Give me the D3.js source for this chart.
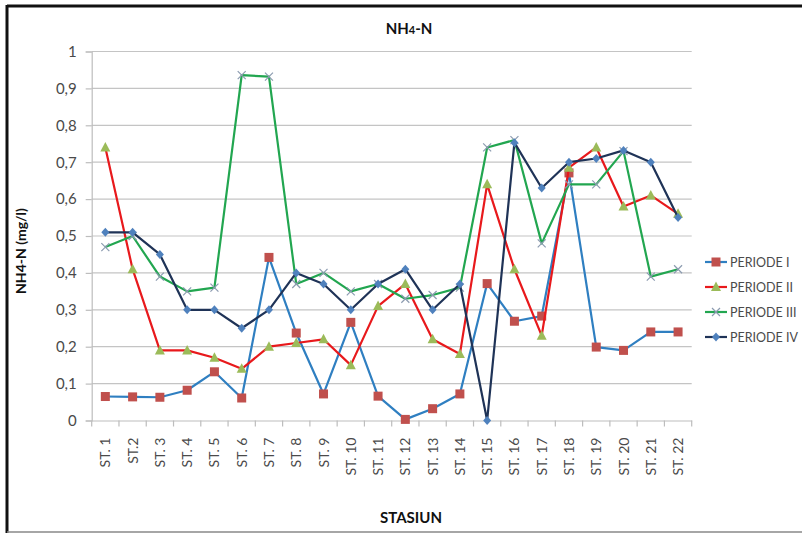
<!DOCTYPE html>
<html>
<head>
<meta charset="utf-8">
<script src="https://cdn.jsdelivr.net/npm/d3@7"></script>
<style>
	html, body { margin: 0; padding: 0; background: #fff; overflow: hidden; }
	svg { display: block; }
</style>
</head>
<body>
<svg width="802" height="533"></svg>
<script>
// data
const stations = ["ST. 1", "ST.2", "ST. 3", "ST. 4", "ST. 5", "ST. 6", "ST. 7", "ST. 8", "ST. 9", "ST. 10", "ST. 11",
	"ST. 12", "ST. 13", "ST. 14", "ST. 15", "ST. 16", "ST. 17", "ST. 18", "ST. 19", "ST. 20", "ST. 21", "ST. 22"];

const periode1 = [0.065, 0.064, 0.063, 0.082, 0.132, 0.061, 0.442, 0.237, 0.072, 0.266, 0.066,
	0.003, 0.032, 0.072, 0.371, 0.269, 0.283, 0.671, 0.199, 0.19, 0.24, 0.24];
const periode2 = [0.74, 0.41, 0.19, 0.19, 0.17, 0.14, 0.2, 0.21, 0.22, 0.15, 0.31,
	0.37, 0.22, 0.18, 0.64, 0.41, 0.23, 0.685, 0.74, 0.58, 0.61, 0.56];
const periode3 = [0.47, 0.5, 0.39, 0.35, 0.36, 0.936, 0.932, 0.37, 0.4, 0.35, 0.37,
	0.33, 0.34, 0.36, 0.74, 0.76, 0.48, 0.64, 0.64, 0.73, 0.39, 0.41];
const periode4 = [0.51, 0.51, 0.45, 0.3, 0.3, 0.25, 0.3, 0.4, 0.37, 0.3, 0.37,
	0.41, 0.3, 0.37, 0, 0.753, 0.63, 0.7, 0.71, 0.732, 0.7, 0.55];

const yTicks = [0, 0.1, 0.2, 0.3, 0.4, 0.5, 0.6, 0.7, 0.8, 0.9, 1];

const series = [
	{ name: "PERIODE I", values: periode1, line: "#2f7fc1", marker: "square", fill: "#c0504d" },
	{ name: "PERIODE II", values: periode2, line: "#e8191c", marker: "triangle", fill: "#9bbb59" },
	{ name: "PERIODE III", values: periode3, line: "#22a650", marker: "cross", fill: "#8c9bb0" },
	{ name: "PERIODE IV", values: periode4, line: "#1f3357", marker: "diamond", fill: "#4f81bd" }
];

const font = 'Lato, sans-serif';

const svg = d3.select('svg');
const margin = { top: 51.5, left: 91.7, right: 110.3, bottom: 112.5 };
const width = +svg.attr('width');
const height = +svg.attr('height');
const innerWidth = width - margin.left - margin.right;
const innerHeight = height - margin.top - margin.bottom;

// frame around the chart
svg.append('line').attr('x1', 7).attr('x2', 802).attr('y1', 6).attr('y2', 6)
	.attr('stroke', '#111').attr('stroke-width', 3);
svg.append('line').attr('x1', 7).attr('x2', 7).attr('y1', 5).attr('y2', 533)
	.attr('stroke', '#111').attr('stroke-width', 3);
svg.append('line').attr('x1', 7).attr('x2', 802).attr('y1', 532).attr('y2', 532)
	.attr('stroke', '#888').attr('stroke-width', 1.5);

const xScale = d3.scaleBand()
	.domain(stations)
	.range([0, innerWidth]);

const yScale = d3.scaleLinear()
	.domain([0, 1])
	.range([innerHeight, 0]);

const g = svg.append('g')
	.attr('transform', `translate(${margin.left}, ${margin.top})`);

// gridlines
g.append('g').selectAll('line').data(yTicks.slice(1))
	.enter().append('line')
		.attr('x1', 0)
		.attr('x2', innerWidth)
		.attr('y1', d => yScale(d))
		.attr('y2', d => yScale(d))
		.attr('stroke', '#c4c4c4')
		.attr('stroke-width', 1.2);

// y axis
const yAxis = g.append('g').call(d3.axisLeft(yScale)
	.tickValues(yTicks)
	.tickSize(6)
	.tickPadding(9)
	.tickFormat(d => String(d).replace('.', ',')));
yAxis.attr('font-family', font).attr('font-size', 15);
yAxis.selectAll('.domain, .tick line').attr('stroke', '#bdbdbd').attr('stroke-width', 1.2);
yAxis.selectAll('.tick text').attr('fill', '#4a4a4a');

// x axis; labels drawn separately, ticks sit between categories
g.append('g')
	.attr('transform', `translate(0, ${innerHeight})`)
	.call(d3.axisBottom(xScale).tickSize(0).tickFormat(''))
	.select('.domain').attr('stroke', '#bdbdbd').attr('stroke-width', 1.2);

g.append('g').selectAll('line').data(d3.range(stations.length + 1))
	.enter().append('line')
		.attr('x1', i => i * xScale.step())
		.attr('x2', i => i * xScale.step())
		.attr('y1', innerHeight)
		.attr('y2', innerHeight + 6)
		.attr('stroke', '#bdbdbd')
		.attr('stroke-width', 1.2);

const cx = i => xScale(stations[i]) + xScale.bandwidth() / 2;

g.append('g').selectAll('text').data(stations)
	.enter().append('text')
		.attr('transform', (d, i) => `translate(${cx(i) + 5}, ${innerHeight + 17}) rotate(-90)`)
		.attr('text-anchor', 'end')
		.attr('font-family', font)
		.attr('font-size', 14)
		.attr('fill', '#4a4a4a')
		.text(d => d);

function drawMarker(sel, s, x, y) {
	if (s.marker === 'square') {
		sel.append('rect').attr('x', x - 4.5).attr('y', y - 4.5).attr('width', 9).attr('height', 9)
			.attr('fill', s.fill);
	} else if (s.marker === 'triangle') {
		sel.append('path').attr('d', `M${x},${y - 5.5}L${x + 5},${y + 4}L${x - 5},${y + 4}Z`)
			.attr('fill', s.fill);
	} else if (s.marker === 'diamond') {
		sel.append('path').attr('d', `M${x},${y - 4.5}L${x + 4},${y}L${x},${y + 4.5}L${x - 4},${y}Z`)
			.attr('fill', s.fill);
	} else {
		sel.append('path').attr('d', `M${x - 4},${y - 4}L${x + 4},${y + 4}M${x - 4},${y + 4}L${x + 4},${y - 4}`)
			.attr('stroke', s.fill).attr('stroke-width', 1.2).attr('fill', 'none');
	}
}

const line = d3.line()
	.x((d, i) => cx(i))
	.y(d => yScale(d));

series.forEach(s => {
	const sg = g.append('g');
	sg.append('path')
		.datum(s.values)
		.attr('d', line)
		.attr('fill', 'none')
		.attr('stroke', s.line)
		.attr('stroke-width', 2.2)
		.attr('stroke-linejoin', 'round');
	s.values.forEach((v, i) => drawMarker(sg, s, cx(i), yScale(v)));
});

// legend
const legend = svg.append('g').attr('transform', 'translate(705, 262)');
series.forEach((s, i) => {
	const lg = legend.append('g').attr('transform', `translate(0, ${i * 25})`);
	lg.append('line').attr('x1', 0).attr('x2', 22).attr('y1', 0).attr('y2', 0)
		.attr('stroke', s.line).attr('stroke-width', 2.2);
	drawMarker(lg, s, 11, 0);
	lg.append('text').attr('x', 25).attr('y', 4.5)
		.attr('font-family', font)
		.attr('font-size', 12.5).attr('fill', '#4a4a4a').text(s.name);
});

// titles
const title = svg.append('text')
	.attr('x', 409).attr('y', 34)
	.attr('text-anchor', 'middle')
	.attr('font-family', font)
	.attr('font-size', 15).attr('font-weight', 'bold').attr('fill', '#111');
title.append('tspan').text('NH');
title.append('tspan').attr('font-size', 11).text('4');
title.append('tspan').text('-N');

svg.append('text')
	.attr('transform', 'translate(26, 251) rotate(-90)')
	.attr('text-anchor', 'middle')
	.attr('font-family', font)
	.attr('font-size', 14).attr('font-weight', 'bold').attr('fill', '#111')
	.text('NH4-N (mg/l)');

svg.append('text')
	.attr('x', 411).attr('y', 523)
	.attr('text-anchor', 'middle')
	.attr('font-family', font)
	.attr('font-size', 15).attr('font-weight', 'bold').attr('fill', '#111')
	.text('STASIUN');
</script>
</body>
</html>
